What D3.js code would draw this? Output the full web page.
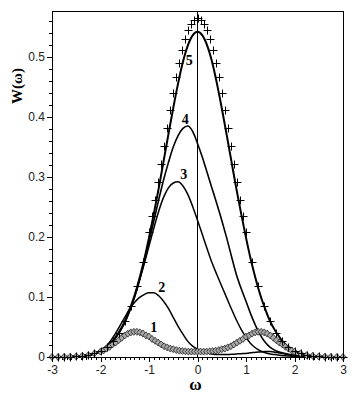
<!DOCTYPE html>
<html><head><meta charset="utf-8">
<script src="https://cdn.jsdelivr.net/npm/d3@7"></script>
<style>html,body{margin:0;padding:0;background:#fff;}svg{display:block;}</style>
</head><body>
<svg id="chart" width="356" height="402"></svg>
<script>
// ---------- DATA ----------
const omega = [-3.0,-2.9,-2.8,-2.7,-2.6,-2.5,-2.4,-2.3,-2.2,-2.1,
  -2.0,-1.9,-1.8,-1.7,-1.6,-1.5,-1.4,-1.3,-1.2,-1.1,
  -1.0,-0.9,-0.8,-0.7,-0.6,-0.5,-0.4,-0.3,-0.2,-0.1,
  0.0,0.1,0.2,0.3,0.4,0.5,0.6,0.7,0.8,0.9,
  1.0,1.1,1.2,1.3,1.4,1.5,1.6,1.7,1.8,1.9,
  2.0,2.1,2.2,2.3,2.4,2.5,2.6,2.7,2.8,2.9,3.0];

const w5 = [0.0001,0.0001,0.0002,0.0004,0.0007,0.001,0.002,0.003,0.0045,0.007,
  0.010,0.015,0.022,0.032,0.044,0.059,0.079,0.102,0.130,0.162,
  0.199,0.239,0.281,0.326,0.371,0.415,0.456,0.492,0.519,0.536,
  0.542,0.536,0.519,0.492,0.456,0.415,0.371,0.326,0.281,0.239,
  0.199,0.162,0.130,0.102,0.079,0.059,0.044,0.032,0.022,0.015,
  0.010,0.007,0.0045,0.003,0.002,0.001,0.0007,0.0004,0.0002,0.0001,0.0001];

const w4 = [0.0001,0.0001,0.0002,0.0004,0.0007,0.001,0.0018,0.0028,0.0044,0.0068,
  0.010,0.015,0.022,0.031,0.043,0.058,0.077,0.100,0.127,0.158,
  0.192,0.227,0.262,0.295,0.324,0.350,0.369,0.381,0.385,0.376,
  0.356,0.333,0.307,0.281,0.255,0.228,0.199,0.168,0.138,0.114,
  0.093,0.071,0.052,0.036,0.024,0.016,0.011,0.008,0.006,0.004,
  0.003,0.002,0.0015,0.001,0.0007,0.0005,0.0003,0.0002,0.0001,0.0001,0.0001];

const w3 = [0.0001,0.0001,0.0002,0.0004,0.0007,0.001,0.0018,0.0028,0.0044,0.0068,
  0.010,0.015,0.022,0.031,0.042,0.057,0.076,0.099,0.126,0.155,
  0.185,0.215,0.243,0.266,0.282,0.290,0.292,0.285,0.271,0.251,
  0.228,0.204,0.180,0.157,0.137,0.118,0.099,0.080,0.062,0.046,
  0.033,0.022,0.015,0.010,0.007,0.005,0.004,0.003,0.002,0.0015,
  0.001,0.0008,0.0006,0.0004,0.0003,0.0002,0.0001,0.0001,0.0001,0.0001,0.0001];

const w2 = [0.0001,0.0001,0.0002,0.0004,0.0007,0.001,0.0018,0.0028,0.0045,0.007,
  0.011,0.017,0.026,0.038,0.052,0.066,0.080,0.091,0.099,0.104,
  0.107,0.107,0.102,0.093,0.081,0.066,0.051,0.038,0.026,0.018,
  0.013,0.010,0.007,0.005,0.004,0.004,0.004,0.0045,0.005,0.0055,
  0.006,0.007,0.008,0.0085,0.009,0.009,0.008,0.0065,0.005,0.0035,
  0.0025,0.0015,0.001,0.0006,0.0004,0.0002,0.0001,0.0001,0.0001,0.0001,0.0001];

// "+" marker series
const omegaExact = [-3,-2.875,-2.75,-2.625,-2.5,-2.375,-2.25,-2.125,-2,-1.875,-1.75,-1.625,-1.5,-1.375,-1.25,-1.125,
  -1,-0.9375,-0.875,-0.8125,-0.75,-0.6875,-0.625,-0.5625,-0.5,-0.4375,-0.375,-0.3125,-0.25,-0.1875,-0.125,-0.0625,
  0,0.0625,0.125,0.1875,0.25,0.3125,0.375,0.4375,0.5,0.5625,0.625,0.6875,0.75,0.8125,0.875,0.9375,1,
  1.125,1.25,1.375,1.5,1.625,1.75,1.875,2,2.125,2.25,2.375,2.5,2.625,2.75,2.875,3];
const wExact = [0.0001,0.0002,0.0003,0.0006,0.0011,0.0020,0.0036,0.0062,0.0103,0.0168,0.0264,0.0402,0.0595,0.0852,0.1183,0.1591,
  0.2076,0.2343,0.2624,0.2916,0.3215,0.3517,0.3818,0.4112,0.4394,0.4659,0.4902,0.5117,0.5300,0.5447,0.5555,0.5620,
  0.5642,0.5620,0.5555,0.5447,0.5300,0.5117,0.4902,0.4659,0.4394,0.4112,0.3818,0.3517,0.3215,0.2916,0.2624,0.2343,0.2076,
  0.1591,0.1183,0.0852,0.0595,0.0402,0.0264,0.0168,0.0103,0.0062,0.0036,0.0020,0.0011,0.0006,0.0003,0.0002,0.0001];

// diamond marker series (curve 1)
const omega1 = [-3,-2.875,-2.75,-2.625,-2.5,-2.375,-2.25,-2.125,
  -2,-1.9375,-1.875,-1.8125,-1.75,-1.6875,-1.625,-1.5625,-1.5,-1.4375,-1.375,-1.3125,-1.25,-1.1875,-1.125,-1.0625,
  -1,-0.9375,-0.875,-0.8125,-0.75,-0.6875,-0.625,-0.5625,-0.5,-0.4375,-0.375,-0.3125,-0.25,-0.1875,-0.125,-0.0625,
  0,0.0625,0.125,0.1875,0.25,0.3125,0.375,0.4375,0.5,0.5625,0.625,0.6875,0.75,0.8125,0.875,0.9375,
  1,1.0625,1.125,1.1875,1.25,1.3125,1.375,1.4375,1.5,1.5625,1.625,1.6875,1.75,1.8125,1.875,1.9375,2,
  2.125,2.25,2.375,2.5,2.625,2.75,2.875,3];
const w1 = [0.0001,0.0001,0.0003,0.0005,0.001,0.002,0.003,0.006,
  0.009,0.011,0.014,0.017,0.021,0.024,0.028,0.032,0.036,0.039,0.041,0.042,0.042,0.041,0.039,0.036,
  0.034,0.030,0.027,0.024,0.021,0.018,0.016,0.014,0.013,0.0115,0.0105,0.010,0.0095,0.009,0.009,0.009,
  0.009,0.009,0.009,0.009,0.0095,0.010,0.0105,0.0115,0.013,0.014,0.016,0.018,0.021,0.024,0.027,0.030,
  0.034,0.036,0.039,0.041,0.042,0.042,0.041,0.039,0.036,0.032,0.028,0.024,0.021,0.017,0.014,0.011,0.009,
  0.006,0.003,0.002,0.001,0.0005,0.0003,0.0001,0.0001];

const xTicks = [-3,-2,-1,0,1,2,3];
const xTickLabels = ["-3","-2","-1","0","1","2","3"];
const yTicks = [0,0.1,0.2,0.3,0.4,0.5];
const yTickLabels = ["0","0.1","0.2","0.3","0.4","0.5"];
const curveLabels = ["1","2","3","4","5"];

// ---------- DRAW ----------
const svg = d3.select("#chart");
const x = d3.scaleLinear().domain([-3,3]).range([52,343]);
const y = d3.scaleLinear().domain([0,0.5767]).range([357,11]);

const minorX = d3.range(-30,31).map(d=>d/10).filter(d=>Math.abs(d-Math.round(d))>1e-6);
const minorY = d3.range(0,29).map(d=>d/50).filter(d=>Math.abs(d*10-Math.round(d*10))>1e-6);

// frame top & right
svg.append("line").attr("x1",x(-3)).attr("x2",x(3)).attr("y1",y(0.5767)).attr("y2",y(0.5767))
  .attr("stroke","#000").attr("shape-rendering","crispEdges");
svg.append("line").attr("x1",x(3)).attr("x2",x(3)).attr("y1",y(0.5767)).attr("y2",y(0))
  .attr("stroke","#000").attr("shape-rendering","crispEdges");
// omega = 0 line
svg.append("line").attr("x1",x(0)).attr("x2",x(0)).attr("y1",y(0.5767)).attr("y2",y(0))
  .attr("stroke","#000").attr("shape-rendering","crispEdges");

function styleAxis(g){
  g.selectAll("path,line").attr("stroke","#000").attr("shape-rendering","crispEdges");
  g.selectAll("text").attr("fill","#222").style("font-family","'Liberation Sans', Arial, sans-serif").style("font-size","12px");
}
const gx = svg.append("g").attr("transform",`translate(0,${y(0)})`)
  .call(d3.axisBottom(x).tickValues(xTicks).tickFormat((d,i)=>xTickLabels[i]).tickSize(5).tickSizeOuter(0).tickPadding(3));
styleAxis(gx);
const gxm = svg.append("g").attr("transform",`translate(0,${y(0)})`)
  .call(d3.axisBottom(x).tickValues(minorX).tickFormat("").tickSize(3).tickSizeOuter(0));
styleAxis(gxm); gxm.select(".domain").remove();

const gy = svg.append("g").attr("transform",`translate(${x(-3)},0)`)
  .call(d3.axisLeft(y).tickValues(yTicks).tickFormat((d,i)=>yTickLabels[i]).tickSize(5).tickSizeOuter(0).tickPadding(2));
styleAxis(gy);
gy.select(".domain").attr("d",`M0,${y(0)}V${y(0.5767)}`);
const gym = svg.append("g").attr("transform",`translate(${x(-3)},0)`)
  .call(d3.axisLeft(y).tickValues(minorY).tickFormat("").tickSize(3).tickSizeOuter(0));
styleAxis(gym); gym.select(".domain").remove();

// curves
const line = d3.line().x(d=>x(d[0])).y(d=>y(d[1])).curve(d3.curveMonotoneX);
[[w2,1.5],[w3,1.5],[w4,1.6],[w5,2]].forEach(([ws,sw])=>{
  svg.append("path").datum(omega.map((o,i)=>[o,ws[i]]))
    .attr("d",line).attr("fill","none").attr("stroke","#000").attr("stroke-width",sw);
});

// diamonds (curve 1)
const dia = svg.append("g");
omega1.forEach((o,i)=>{
  const cx = x(o), cy = y(w1[i]);
  dia.append("path").attr("d",`M${cx},${cy-3.5}L${cx+3},${cy}L${cx},${cy+3.5}L${cx-3},${cy}Z`)
    .attr("fill","#a8a8a8").attr("stroke","#111").attr("stroke-width",0.7);
});

// plus markers
const pl = svg.append("g");
omegaExact.forEach((o,i)=>{
  const cx = Math.round(x(o))+0.5, cy = Math.round(y(wExact[i]))+0.5;
  pl.append("path").attr("d",`M${cx-4},${cy}H${cx+4}M${cx},${cy-4}V${cy+4}`)
    .attr("stroke","#000").attr("stroke-width",1).attr("fill","none");
});

// curve labels
const labPos = [[-0.90,0.0417],[-0.736,0.108],[-0.282,0.296],[-0.254,0.389],[-0.171,0.487]];
curveLabels.forEach((t,i)=>{
  svg.append("text").attr("x",x(labPos[i][0])).attr("y",y(labPos[i][1]))
    .attr("text-anchor","middle").style("font-family","'Liberation Serif','Times New Roman',serif")
    .style("font-weight","bold").style("font-size","14px").text(t);
});

// axis titles
svg.append("text").attr("x",x(0)-2).attr("y",390).attr("text-anchor","middle")
  .style("font-family","'Liberation Serif','Times New Roman',serif").style("font-size","17px").style("font-weight","bold").text("ω");
svg.append("text").attr("transform","translate(22,86) rotate(-90)").attr("text-anchor","middle")
  .style("font-family","'Liberation Serif','Times New Roman',serif").style("font-size","15px").style("font-weight","bold").text("W(ω)");
</script>
</body></html>
